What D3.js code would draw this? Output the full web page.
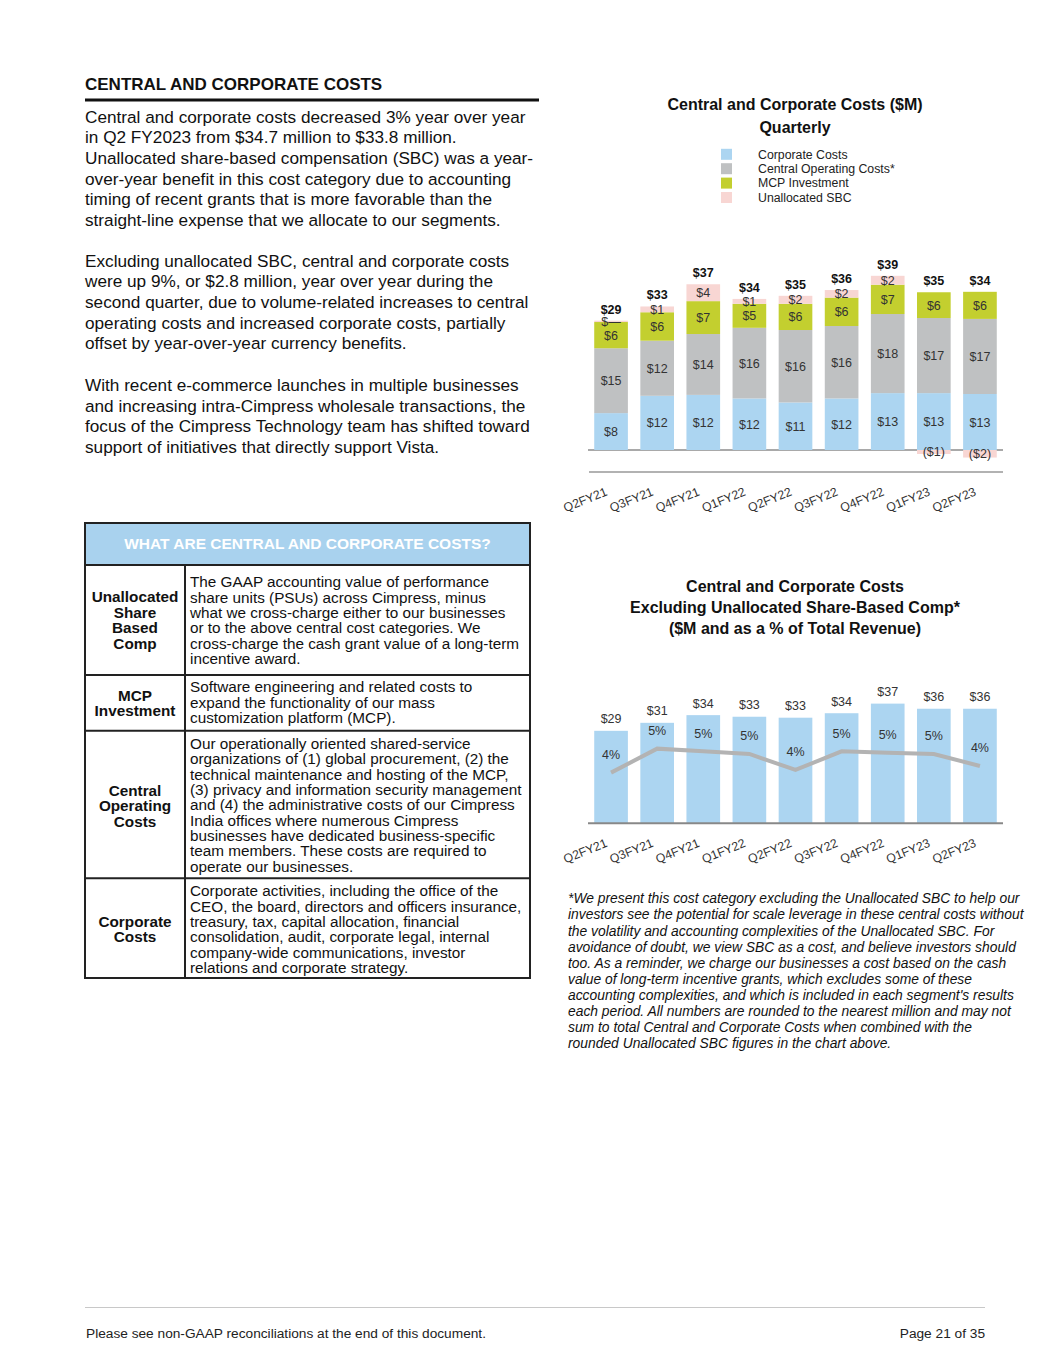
<!DOCTYPE html>
<html>
<head>
<meta charset="utf-8">
<style>
  body { margin: 0; background: #fff; }
  text { font-family: "Liberation Sans", Arial, sans-serif; }
</style>
</head>
<body>
<svg id="page" width="1055" height="1365"></svg>
<script src="https://cdn.jsdelivr.net/npm/d3@7"></script>
<script>
// ---- data ($M) ----
const quarters = ["Q2FY21", "Q3FY21", "Q4FY21", "Q1FY22", "Q2FY22", "Q3FY22", "Q4FY22", "Q1FY23", "Q2FY23"]
const corporateCosts = [8.3, 12.2, 12.4, 11.6, 10.7, 11.6, 12.8, 12.8, 12.6]
const centralOperating = [14.6, 12.4, 13.7, 15.9, 16.3, 16.3, 17.8, 16.9, 16.9]
const mcpInvestment = [5.9, 6.4, 7.4, 5.4, 5.9, 6.4, 6.6, 5.8, 6.1]
const unallocatedSBC = [0.3, 1.3, 3.8, 1.1, 1.8, 1.7, 2.0, -0.9, -1.7]
const quarterTotals = [29, 33, 37, 34, 35, 36, 39, 35, 34]

const exSbcCosts = [28.9, 31.4, 33.8, 33.3, 33.0, 34.4, 37.4, 35.8, 35.8]
const pctOfRevenue = [4.2, 5.1, 5.0, 4.9, 4.3, 5.0, 4.95, 4.9, 4.45]

const seriesNames = ["Corporate Costs", "Central Operating Costs*", "MCP Investment", "Unallocated SBC"]
const seriesColors = ["#acd5f1", "#bfc1c2", "#c3cf2f", "#f8d6d3"]

let svg = d3.select("#page")

// ---- left column text ----
svg.append("text").attr("x", 85).attr("y", 90)
  .attr("font-size", 17).attr("font-weight", "bold").attr("fill", "#111")
  .text("CENTRAL AND CORPORATE COSTS")
svg.append("rect").attr("x", 85).attr("y", 98.5).attr("width", 454).attr("height", 3).attr("fill", "#111")

const paragraphs = [
  { top: 116.7, lines: [
    "Central and corporate costs decreased 3% year over year",
    "in Q2 FY2023 from $34.7 million to $33.8 million.",
    "Unallocated share-based compensation (SBC) was a year-",
    "over-year benefit in this cost category due to accounting",
    "timing of recent grants that is more favorable than the",
    "straight-line expense that we allocate to our segments."] },
  { top: 260.7, lines: [
    "Excluding unallocated SBC, central and corporate costs",
    "were up 9%, or $2.8 million, year over year during the",
    "second quarter, due to volume-related increases to central",
    "operating costs and increased corporate costs, partially",
    "offset by year-over-year currency benefits."] },
  { top: 385, lines: [
    "With recent e-commerce launches in multiple businesses",
    "and increasing intra-Cimpress wholesale transactions, the",
    "focus of the Cimpress Technology team has shifted toward",
    "support of initiatives that directly support Vista."] }
]
paragraphs.forEach(p => {
  svg.append("g").selectAll("text").data(p.lines).enter().append("text")
    .attr("x", 85).attr("y", (d, i) => p.top + 6 + i * 20.6)
    .attr("font-size", 17.2).attr("fill", "#111")
    .text(d => d)
})

// ---- definitions table ----
let table = svg.append("g")
const tLeft = 85, tRight = 530, tTop = 523, tHead = 565, tBottom = 978, tDiv = 185
table.append("rect").attr("x", tLeft).attr("y", tTop).attr("width", tRight - tLeft).attr("height", tHead - tTop)
  .attr("fill", "#a9d2ee")
table.append("text").attr("x", (tLeft + tRight) / 2).attr("y", 549)
  .attr("text-anchor", "middle").attr("font-size", 15.5).attr("font-weight", "bold").attr("fill", "#fff")
  .text("WHAT ARE CENTRAL AND CORPORATE COSTS?")

const tableRows = [
  { bottom: 675, leftTop: 596.7, left: ["Unallocated", "Share", "Based", "Comp"], rightTop: 581.7, right: [
    "The GAAP accounting value of performance",
    "share units (PSUs) across Cimpress, minus",
    "what we cross-charge either to our businesses",
    "or to the above central cost categories. We",
    "cross-charge the cash grant value of a long-term",
    "incentive award."] },
  { bottom: 730.7, leftTop: 695, left: ["MCP", "Investment"], rightTop: 686.7, right: [
    "Software engineering and related costs to",
    "expand the functionality of our mass",
    "customization platform (MCP)."] },
  { bottom: 878.3, leftTop: 790, left: ["Central", "Operating", "Costs"], rightTop: 743.3, right: [
    "Our operationally oriented shared-service",
    "organizations of (1) global procurement, (2) the",
    "technical maintenance and hosting of the MCP,",
    "(3) privacy and information security management",
    "and (4) the administrative costs of our Cimpress",
    "India offices where numerous Cimpress",
    "businesses have dedicated business-specific",
    "team members. These costs are required to",
    "operate our businesses."] },
  { bottom: tBottom, leftTop: 921, left: ["Corporate", "Costs"], rightTop: 890.7, right: [
    "Corporate activities, including the office of the",
    "CEO, the board, directors and officers insurance,",
    "treasury, tax, capital allocation, financial",
    "consolidation, audit, corporate legal, internal",
    "company-wide communications, investor",
    "relations and corporate strategy."] }
]
tableRows.forEach(r => {
  table.append("g").selectAll("text").data(r.left).enter().append("text")
    .attr("x", (tLeft + tDiv) / 2).attr("y", (d, i) => r.leftTop + 5.5 + i * 15.5)
    .attr("text-anchor", "middle").attr("font-size", 15.3).attr("font-weight", "bold").attr("fill", "#111")
    .text(d => d)
  table.append("g").selectAll("text").data(r.right).enter().append("text")
    .attr("x", 190).attr("y", (d, i) => r.rightTop + 5.5 + i * 15.35)
    .attr("font-size", 15.3).attr("fill", "#111")
    .text(d => d)
  table.append("line").attr("x1", tLeft).attr("x2", tRight).attr("y1", r.bottom).attr("y2", r.bottom)
    .attr("stroke", "#222").attr("stroke-width", 2)
})
table.append("line").attr("x1", tLeft).attr("x2", tRight).attr("y1", tHead).attr("y2", tHead)
  .attr("stroke", "#222").attr("stroke-width", 2)
table.append("line").attr("x1", tDiv).attr("x2", tDiv).attr("y1", tHead).attr("y2", tBottom)
  .attr("stroke", "#222").attr("stroke-width", 2)
table.append("rect").attr("x", tLeft).attr("y", tTop).attr("width", tRight - tLeft).attr("height", tBottom - tTop)
  .attr("fill", "none").attr("stroke", "#222").attr("stroke-width", 2)

// ---- shared x scale for both charts ----
let x = d3.scaleBand().domain(quarters).range([588, 1003]).paddingInner(0.27).paddingOuter(0.135)
const fmt = v => v < -0.5 ? "($" + Math.round(-v) + ")" : (Math.round(v) === 0 ? "$—" : "$" + Math.round(v))

function drawQuarterAxis(g, y0) {
  g.selectAll("text").data(quarters).enter().append("text")
    .attr("transform", d => "translate(" + (x(d) + x.bandwidth() / 2 - 3) + "," + (y0 + 23) + ") rotate(-22)")
    .attr("text-anchor", "end").attr("font-size", 12.3).attr("fill", "#333")
    .text(d => d)
}

// ---- chart 1: stacked quarterly costs ----
let c1 = svg.append("g")
c1.append("text").attr("x", 795).attr("y", 110).attr("text-anchor", "middle")
  .attr("font-size", 16).attr("font-weight", "bold").attr("fill", "#111").text("Central and Corporate Costs ($M)")
c1.append("text").attr("x", 795).attr("y", 132.5).attr("text-anchor", "middle")
  .attr("font-size", 16).attr("font-weight", "bold").attr("fill", "#111").text("Quarterly")

let legend = c1.append("g").selectAll("g").data(seriesNames).enter().append("g")
  .attr("transform", (d, i) => "translate(721," + (154.3 + i * 14.4) + ")")
legend.append("rect").attr("x", 0).attr("y", -5.5).attr("width", 11).attr("height", 11)
  .attr("fill", (d, i) => seriesColors[i])
legend.append("text").attr("x", 37).attr("y", 4.3).attr("font-size", 12.3).attr("fill", "#222").text(d => d)

let y1 = d3.scaleLinear().domain([0, 39]).range([450, 276.7])

const stackRows = quarters.map((q, i) => ({
  quarter: q, corp: corporateCosts[i], central: centralOperating[i], mcp: mcpInvestment[i], sbc: unallocatedSBC[i]
}))
const keys = ["corp", "central", "mcp", "sbc"]
let stacked = d3.stack().keys(keys).offset(d3.stackOffsetDiverging)(stackRows)

c1.append("line").attr("x1", 588).attr("x2", 1003).attr("y1", y1(0)).attr("y2", y1(0))
  .attr("stroke", "#555").attr("stroke-width", 1.2)
c1.append("line").attr("x1", 589).attr("x2", 1003).attr("y1", 472).attr("y2", 472)
  .attr("stroke", "#999").attr("stroke-width", 1.5)

let layers = c1.selectAll(".layer").data(stacked).enter().append("g")
  .attr("fill", (d, i) => seriesColors[i])
layers.selectAll("rect").data(d => d).enter().append("rect")
  .attr("x", d => x(d.data.quarter))
  .attr("width", x.bandwidth())
  .attr("y", d => y1(Math.max(d[0], d[1])))
  .attr("height", d => Math.abs(y1(d[0]) - y1(d[1])))

layers.selectAll("text").data((d, li) => d.map(s => ({ s: s, key: keys[li] }))).enter().append("text")
  .attr("x", d => x(d.s.data.quarter) + x.bandwidth() / 2)
  .attr("y", d => (y1(d.s[0]) + y1(d.s[1])) / 2 + 4.5)
  .attr("text-anchor", "middle").attr("font-size", 12.5).attr("fill", "#333")
  .text(d => fmt(d.s.data[d.key]))

c1.append("g").selectAll("text").data(quarters).enter().append("text")
  .attr("x", d => x(d) + x.bandwidth() / 2)
  .attr("y", (d, i) => y1(corporateCosts[i] + centralOperating[i] + mcpInvestment[i] + Math.max(0, unallocatedSBC[i])) - 7)
  .attr("text-anchor", "middle").attr("font-size", 12.5).attr("font-weight", "bold").attr("fill", "#111")
  .text((d, i) => "$" + quarterTotals[i])

drawQuarterAxis(c1.append("g"), 472)

// ---- chart 2: costs excluding SBC and % of revenue ----
let c2 = svg.append("g")
const c2Titles = ["Central and Corporate Costs", "Excluding Unallocated Share-Based Comp*", "($M and as a % of Total Revenue)"]
c2.selectAll("text.title").data(c2Titles).enter().append("text")
  .attr("x", 795).attr("y", (d, i) => 592 + i * 21).attr("text-anchor", "middle")
  .attr("font-size", 16).attr("font-weight", "bold").attr("fill", "#111").text(d => d)

let y2 = d3.scaleLinear().domain([0, 37.5]).range([823.3, 703.3])
let yPct = d3.scaleLinear().domain([2.3, 6.8]).range([823.3, 703.3])

c2.append("g").selectAll("rect").data(exSbcCosts).enter().append("rect")
  .attr("x", (d, i) => x(quarters[i])).attr("width", x.bandwidth())
  .attr("y", d => y2(d)).attr("height", d => y2(0) - y2(d))
  .attr("fill", seriesColors[0])

c2.append("line").attr("x1", 588).attr("x2", 1003).attr("y1", 823.3).attr("y2", 823.3)
  .attr("stroke", "#888").attr("stroke-width", 2)

let pctLine = d3.line()
  .x((d, i) => x(quarters[i]) + x.bandwidth() / 2)
  .y(d => yPct(d))
c2.append("path").datum(pctOfRevenue).attr("d", pctLine)
  .attr("fill", "none").attr("stroke", "#b3b3b3").attr("stroke-width", 4)

c2.append("g").selectAll("text").data(exSbcCosts).enter().append("text")
  .attr("x", (d, i) => x(quarters[i]) + x.bandwidth() / 2).attr("y", d => y2(d) - 7.5)
  .attr("text-anchor", "middle").attr("font-size", 12.5).attr("fill", "#333")
  .text(d => "$" + Math.round(d))

c2.append("g").selectAll("text").data(pctOfRevenue).enter().append("text")
  .attr("x", (d, i) => x(quarters[i]) + x.bandwidth() / 2).attr("y", d => yPct(d) - 13.5)
  .attr("text-anchor", "middle").attr("font-size", 12.5).attr("fill", "#333")
  .text(d => Math.round(d) + "%")

drawQuarterAxis(c2.append("g"), 823.3)

// ---- footnote ----
const footnote = [
  "*We present this cost category excluding the Unallocated SBC to help our",
  "investors see the potential for scale leverage in these central costs without",
  "the volatility and accounting complexities of the Unallocated SBC. For",
  "avoidance of doubt, we view SBC as a cost, and believe investors should",
  "too. As a reminder, we charge our businesses a cost based on the cash",
  "value of long-term incentive grants, which excludes some of these",
  "accounting complexities, and which is included in each segment's results",
  "each period. All numbers are rounded to the nearest million and may not",
  "sum to total Central and Corporate Costs when combined with the",
  "rounded Unallocated SBC figures in the chart above."
]
svg.append("g").selectAll("text").data(footnote).enter().append("text")
  .attr("x", 568).attr("y", (d, i) => 898.3 + 5 + i * 16.1)
  .attr("font-size", 13.85).attr("font-style", "italic").attr("fill", "#111")
  .text(d => d)

// ---- page footer ----
svg.append("line").attr("x1", 85).attr("x2", 985).attr("y1", 1307.5).attr("y2", 1307.5)
  .attr("stroke", "#c8c8c8").attr("stroke-width", 1)
svg.append("text").attr("x", 86).attr("y", 1337.5).attr("font-size", 13.7).attr("fill", "#222")
  .text("Please see non-GAAP reconciliations at the end of this document.")
svg.append("text").attr("x", 985).attr("y", 1337.5).attr("text-anchor", "end").attr("font-size", 13.7).attr("fill", "#222")
  .text("Page 21 of 35")
</script>
</body>
</html>
